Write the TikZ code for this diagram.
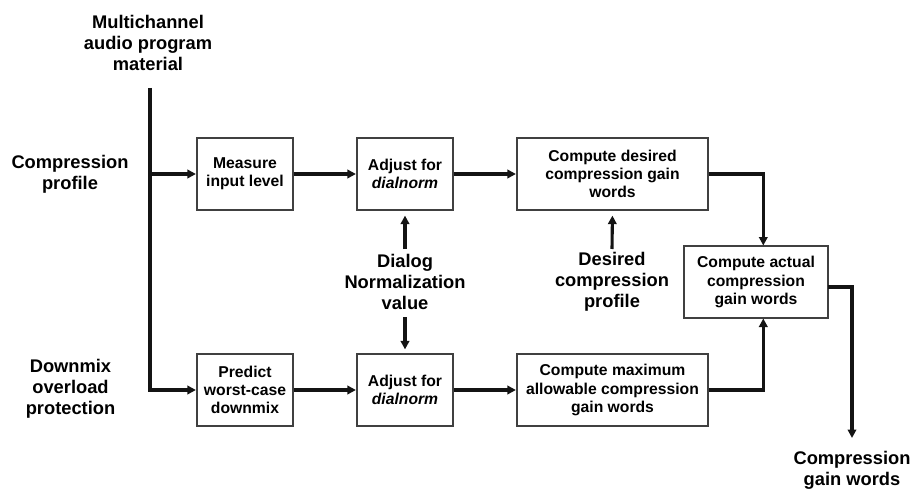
\documentclass[tikz,border=0pt]{standalone}
\usepackage{fontspec}
\setmainfont{Liberation Sans}
\usetikzlibrary{arrows.meta,calc}
\begin{document}
\begin{tikzpicture}[x=1pt,y=-1pt,
  box/.style={draw=black!75,line width=1.2pt,minimum height=72pt,inner sep=0pt,align=center,
    font=\fontsize{15.7}{18.2}\selectfont\bfseries},
  lbl/.style={align=center,inner sep=0pt,font=\fontsize{18.3}{21}\selectfont\bfseries},
  conn/.style={line width=3.1pt,black!92},
  arr/.style={conn,-{Triangle[length=8.5pt,width=8.5pt]}}
]
\useasboundingbox (0,0) rectangle (913,492);
% labels
\node[lbl] (mc) at (148,43) {Multichannel\\audio program\\material};
\node[lbl] (cp) at (70,174) {Compression\\profile};
\node[lbl] (dm) at (70.5,389) {Downmix\\overload\\protection};
\node[lbl] (dnv) at (405,282) {Dialog\\Normalization\\value};
\node[lbl] (dcp) at (612,282) {Desired\\compression\\profile};
\node[lbl] (cgw) at (852,470) {Compression\\gain words};
% boxes
\node[box,minimum width=96pt] (meas) at (245,174) {Measure\\input level};
\node[box,minimum width=96pt] (adj1) at (405,174) {Adjust for\\\itshape dialnorm};
\node[box,minimum width=191pt] (des) at (612.5,174) {Compute desired\\compression gain\\words};
\node[box,minimum width=144pt] (act) at (756,282) {Compute actual\\compression\\gain words};
\node[box,minimum width=96pt] (pred) at (245,390) {Predict\\worst-case\\downmix};
\node[box,minimum width=96pt] (adj2) at (405,390) {Adjust for\\\itshape dialnorm};
\node[box,minimum width=191pt] (maxc) at (612.5,390) {Compute maximum\\allowable compression\\gain words};
% coordinates
\coordinate (top) at (150,88);
\coordinate (j1) at (150,174);
\coordinate (acttop) at (763.3,246);
\coordinate (actbot) at (763.3,318);
\coordinate (actout) at (828,287);
\coordinate (out) at (852,438);
\coordinate (dnvup) at (405,249);
\coordinate (dnvdn) at (405,317);
\coordinate (dcpup) at (612,249);
% connectors
\draw[arr,shorten >=0.5pt] (top) |- (pred.west);
\draw[arr,shorten >=0.5pt] (j1) -- (meas.west);
\draw[arr,shorten >=0.5pt] (meas) -- (adj1);
\draw[arr,shorten >=0.5pt] (adj1) -- (des);
\draw[arr,shorten >=0.5pt] (pred) -- (adj2);
\draw[arr,shorten >=0.5pt] (adj2) -- (maxc);
\draw[arr,shorten >=0.5pt] (des.east) -| (acttop);
\draw[arr,shorten >=0.5pt] (maxc.east) -| (actbot);
\draw[arr] (actout) -| (out);
\draw[arr,shorten >=5pt] (dnvup) -- (adj1.south);
\draw[arr,shorten >=4pt] (dnvdn) -- (adj2.north);
\draw[arr,shorten >=5pt] (dcpup) -- (des.south);
\end{tikzpicture}
\end{document}
